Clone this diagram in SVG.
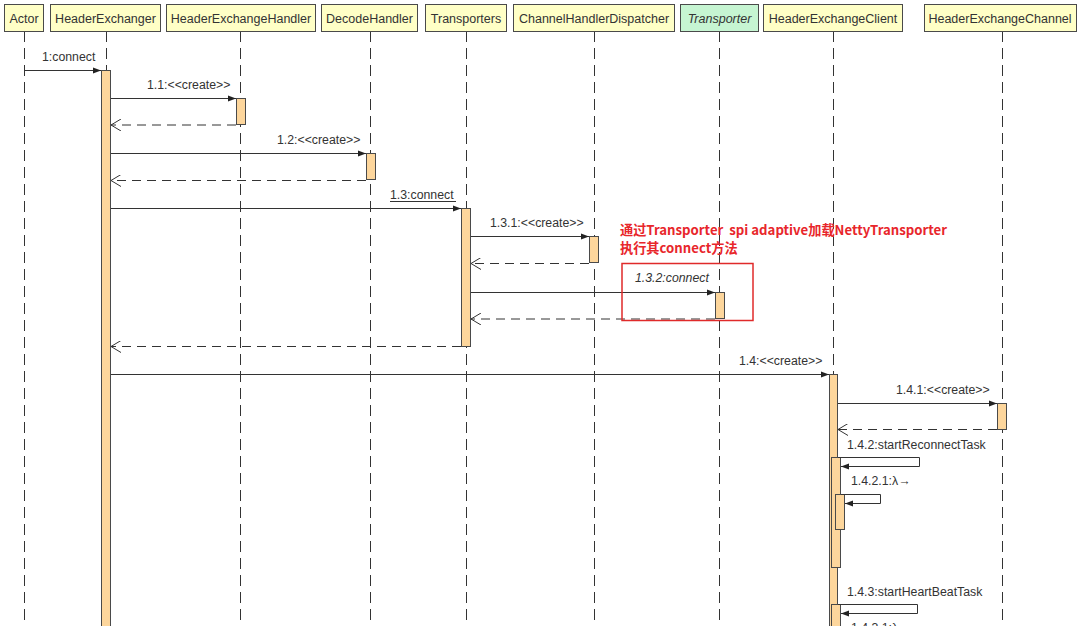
<svg xmlns="http://www.w3.org/2000/svg" width="1088" height="626" viewBox="0 0 1088 626">
<style>
.hd{fill:#ffffc6;stroke:#4a4a4a;stroke-width:1}
.hdg{fill:#c6f5d2;stroke:#4a4a4a;stroke-width:1}
.ht{font-family:"Liberation Sans",Arial,sans-serif;font-size:12.5px;fill:#333;text-anchor:middle}
.ll{stroke:#333;stroke-width:1;stroke-dasharray:11 6;fill:none}
.act{fill:#fdd69c;stroke:#4a4a4a;stroke-width:1}
.msg{stroke:#333;stroke-width:1;fill:none}
.ret{stroke:#333;stroke-width:1;fill:none;stroke-dasharray:9 6}
.lb{font-family:"Liberation Sans",Arial,sans-serif;font-size:12.3px;fill:#333}
.red{font-family:"Noto Sans CJK SC","Liberation Sans",sans-serif;font-size:13.2px;font-weight:bold;fill:#e8262b;white-space:pre}
</style>
<defs>
<marker id="fa" viewBox="0 0 8 8" refX="8" refY="4" markerWidth="8" markerHeight="8" markerUnits="userSpaceOnUse" orient="auto"><path d="M0,1 L8,4 L0,7 Z" fill="#222"/></marker>
<marker id="oa" viewBox="0 0 10 12" refX="10" refY="6" markerWidth="10" markerHeight="12" markerUnits="userSpaceOnUse" orient="auto"><path d="M0,0 L10,6 L0,12" fill="none" stroke="#333" stroke-width="1"/></marker>
</defs>
<rect width="1088" height="626" fill="#ffffff"/>

<g id="actor">
<line class="ll" x1="24.5" y1="31" x2="24.5" y2="626"/>
<rect class="hd" x="4.5" y="4.5" width="39" height="27"/>
<text class="ht" x="24" y="22.5">Actor</text>
</g>
<g id="headerExchanger">
<line class="ll" x1="106.5" y1="31" x2="106.5" y2="626"/>
<rect class="hd" x="50.5" y="4.5" width="110" height="27"/>
<text class="ht" x="105.5" y="22.5">HeaderExchanger</text>
<rect class="act" x="101.5" y="70.5" width="9" height="560"/>
</g>
<g id="headerExchangeHandler">
<line class="ll" x1="240.5" y1="31" x2="240.5" y2="626"/>
<rect class="hd" x="166.5" y="4.5" width="149" height="27"/>
<text class="ht" x="241" y="22.5">HeaderExchangeHandler</text>
<rect class="act" x="236.5" y="98.5" width="9" height="26"/>
</g>
<g id="decodeHandler">
<line class="ll" x1="370.5" y1="31" x2="370.5" y2="626"/>
<rect class="hd" x="321.5" y="4.5" width="96" height="27"/>
<text class="ht" x="369.5" y="22.5">DecodeHandler</text>
<rect class="act" x="366.5" y="153.5" width="9" height="26"/>
</g>
<g id="transporters">
<line class="ll" x1="466.5" y1="31" x2="466.5" y2="626"/>
<rect class="hd" x="425.5" y="4.5" width="81" height="27"/>
<text class="ht" x="466" y="22.5">Transporters</text>
<rect class="act" x="461.5" y="208.5" width="9" height="138"/>
</g>
<g id="channelHandlerDispatcher">
<line class="ll" x1="594.5" y1="31" x2="594.5" y2="626"/>
<rect class="hd" x="513.5" y="4.5" width="161" height="27"/>
<text class="ht" x="594" y="22.5">ChannelHandlerDispatcher</text>
<rect class="act" x="589.5" y="236.5" width="9" height="26"/>
</g>
<g id="transporter">
<line class="ll" x1="719.5" y1="31" x2="719.5" y2="626"/>
<rect class="hdg" x="680.5" y="4.5" width="78" height="27"/>
<text class="ht" x="719.5" y="22.5" font-style="italic">Transporter</text>
<rect class="act" x="715.5" y="292.5" width="9" height="26"/>
</g>
<g id="headerExchangeClient">
<line class="ll" x1="833.5" y1="31" x2="833.5" y2="626"/>
<rect class="hd" x="763.5" y="4.5" width="139" height="27"/>
<text class="ht" x="833" y="22.5">HeaderExchangeClient</text>
<rect class="act" x="829.5" y="374.5" width="8" height="260"/>
<rect class="act" x="831.5" y="457.5" width="9" height="110"/>
<rect class="act" x="835.5" y="494.5" width="9" height="35"/>
<rect class="act" x="831.5" y="604.5" width="9" height="30"/>
</g>
<g id="headerExchangeChannel">
<line class="ll" x1="1002.5" y1="31" x2="1002.5" y2="626"/>
<rect class="hd" x="924.5" y="4.5" width="152" height="27"/>
<text class="ht" x="1000" y="22.5">HeaderExchangeChannel</text>
<rect class="act" x="997.5" y="403.5" width="9" height="26"/>
</g>

<g id="connectors">
<line class="msg" x1="24.5" y1="70.5" x2="101" y2="70.5" marker-end="url(#fa)"/>
<text class="lb" x="42" y="61">1:connect</text>

<line class="msg" x1="111" y1="98.5" x2="236" y2="98.5" marker-end="url(#fa)"/>
<text class="lb" x="147" y="89">1.1:&lt;&lt;create&gt;&gt;</text>
<line class="ret" x1="236" y1="125" x2="111" y2="125" marker-end="url(#oa)"/>

<line class="msg" x1="111" y1="153.5" x2="366" y2="153.5" marker-end="url(#fa)"/>
<text class="lb" x="277" y="144">1.2:&lt;&lt;create&gt;&gt;</text>
<line class="ret" x1="366" y1="180.5" x2="111" y2="180.5" marker-end="url(#oa)"/>

<line class="msg" x1="111" y1="208.5" x2="461" y2="208.5" marker-end="url(#fa)"/>
<text class="lb" x="390" y="199">1.3:connect</text>
<line stroke="#333" stroke-width="1" x1="390" y1="201.5" x2="456" y2="201.5"/>

<line class="msg" x1="471" y1="236.5" x2="589" y2="236.5" marker-end="url(#fa)"/>
<text class="lb" x="490" y="227">1.3.1:&lt;&lt;create&gt;&gt;</text>
<line class="ret" x1="589" y1="263.5" x2="471" y2="263.5" marker-end="url(#oa)"/>

<line class="msg" x1="471" y1="292.5" x2="715" y2="292.5" marker-end="url(#fa)"/>
<text class="lb" x="635" y="282" font-style="italic">1.3.2:connect</text>
<line class="ret" x1="715" y1="319" x2="471" y2="319" marker-end="url(#oa)"/>

<line class="ret" x1="461" y1="346.5" x2="111" y2="346.5" marker-end="url(#oa)"/>

<line class="msg" x1="111" y1="374.5" x2="829" y2="374.5" marker-end="url(#fa)"/>
<text class="lb" x="739" y="365">1.4:&lt;&lt;create&gt;&gt;</text>

<line class="msg" x1="838" y1="403.5" x2="997" y2="403.5" marker-end="url(#fa)"/>
<text class="lb" x="896" y="394">1.4.1:&lt;&lt;create&gt;&gt;</text>
<line class="ret" x1="997" y1="429.5" x2="838" y2="429.5" marker-end="url(#oa)"/>

<text class="lb" x="847" y="449">1.4.2:startReconnectTask</text>
<polyline class="msg" points="838,457.5 919.5,457.5 919.5,466.5 841,466.5" marker-end="url(#fa)"/>

<text class="lb" x="851" y="485">1.4.2.1:λ→</text>
<polyline class="msg" points="841,494.5 880.5,494.5 880.5,503.5 845,503.5" marker-end="url(#fa)"/>

<text class="lb" x="847" y="596">1.4.3:startHeartBeatTask</text>
<polyline class="msg" points="838,604.5 917.5,604.5 917.5,613.5 841,613.5" marker-end="url(#fa)"/>
<text class="lb" x="851" y="632">1.4.3.1:λ→</text>
</g>

<g id="annotation">
<rect x="622" y="263.5" width="131" height="57" fill="none" stroke="#e02a2a" stroke-width="1.5"/>
<text class="red" x="620" y="235" xml:space="preserve">通过Transporter  spi adaptive加载NettyTransporter</text>
<text class="red" x="620" y="253">执行其connect方法</text>
</g>
</svg>
